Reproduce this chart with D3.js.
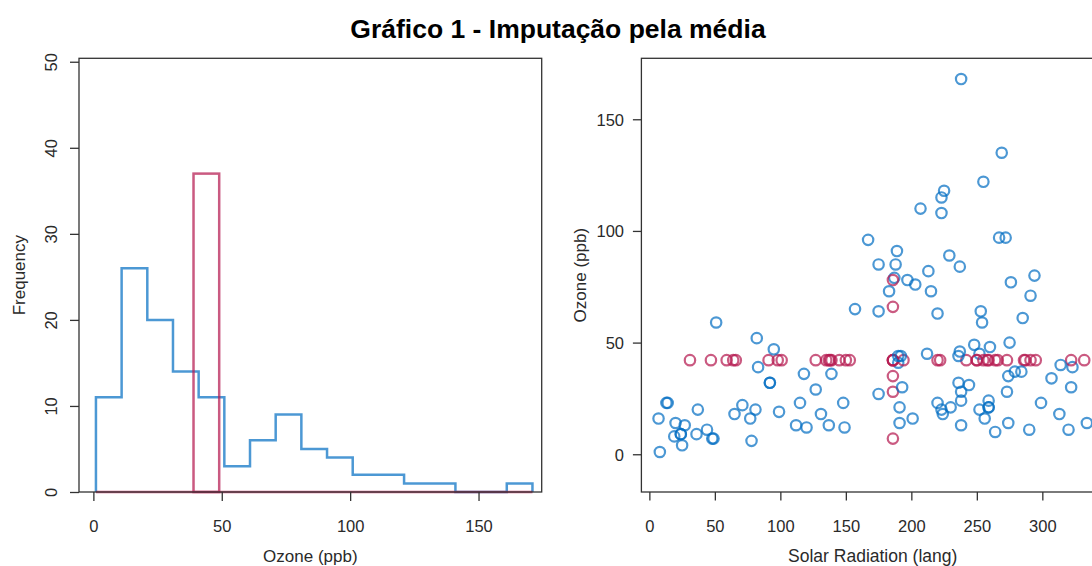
<!DOCTYPE html>
<html><head><meta charset="utf-8">
<script src="https://cdn.jsdelivr.net/npm/d3@7"></script>
<style>
body{margin:0;background:#fff}
svg{display:block}
text{font-family:"Liberation Sans",Arial,Helvetica,sans-serif}
</style>
</head><body>
<script>
// ---------- data ----------
const histBreaks = [1,11,21,31,41,51,61,71,81,91,101,111,121,131,141,151,161,171];
const histCounts = [11,26,20,14,11,3,6,9,5,4,2,2,1,1,0,0,1];
const impBreaks = [39,49];
const impCounts = [37];
const histXTicks = [0,50,100,150];
const histYTicks = [0,10,20,30,40,50];
const scatXTicks = [0,50,100,150,200,250,300];
const scatYTicks = [0,50,100,150];
const ozoneMean = 42.13;
const solarMean = 185.93;
// airquality Ozone / Solar.R (null = missing, imputed by the mean)
const ozone = [41,36,12,18,null,28,23,19,8,null,7,16,11,14,18,14,34,6,30,11,1,11,4,32,null,null,null,23,45,115,37,
 null,null,null,null,null,null,29,null,71,39,null,null,23,null,null,21,37,20,12,13,null,null,null,null,null,null,null,null,null,null,
 135,49,32,null,64,40,77,97,97,85,null,10,27,null,7,48,35,61,79,63,16,null,null,80,108,20,52,82,50,64,59,
 39,9,16,78,35,66,122,89,110,null,null,44,28,65,null,22,59,23,31,44,21,9,null,45,168,73,null,76,118,84,85,
 96,78,73,91,47,32,20,23,21,24,44,21,28,9,13,46,18,13,24,16,13,23,36,7,14,30,null,14,18,20];
const solar = [190,118,149,313,null,null,299,99,19,194,null,256,290,274,65,334,307,78,322,44,8,320,25,92,66,266,null,13,252,223,279,
 286,287,242,186,220,264,127,273,291,323,259,250,148,332,322,191,284,37,120,137,150,59,91,250,135,127,47,98,31,138,
 269,248,236,101,175,314,276,267,272,175,139,264,175,291,48,260,274,285,187,220,7,258,295,294,223,81,82,213,275,253,254,
 83,24,77,null,null,null,255,229,207,222,137,192,273,157,64,71,51,115,244,190,259,36,255,212,238,215,153,203,225,237,188,
 167,197,183,189,95,92,252,220,230,259,236,259,238,24,112,237,224,27,238,201,238,14,139,49,20,193,145,191,131,223];

// ---------- styles ----------
const W = 1092, H = 566;
const BLUE = "rgba(0,108,194,0.7)";
const RED = "rgba(182,26,81,0.72)";
const AX = "#333";
const TXT = "#2a2a2a";

const svg = d3.select("body").append("svg").attr("width", W).attr("height", H);
svg.append("rect").attr("width", W).attr("height", H).attr("fill", "#fff");

svg.append("text").attr("x", 558).attr("y", 38).attr("text-anchor", "middle")
  .attr("font-size", 26.5).attr("font-weight", "bold").attr("fill", "#000")
  .text("Gráfico 1 - Imputação pela média");

// ---------- histogram ----------
const hL = 79, hR = 541.7, hT = 58.3, hB = 492;
const hx = d3.scaleLinear().domain([-5.6, 174.6]).range([hL, hR]);
const hy = d3.scaleLinear().domain([0, 50.4]).range([hB, hT]);

const gH = svg.append("g");
// blue step outline
const pts = [[histBreaks[0], 0]];
histCounts.forEach((c, i) => { pts.push([histBreaks[i], c]); pts.push([histBreaks[i + 1], c]); });
pts.push([histBreaks[histBreaks.length - 1], 0]);
const line = d3.line().x(d => hx(d[0])).y(d => hy(d[1]));
gH.append("path").attr("d", line(pts)).attr("fill", "none").attr("stroke", BLUE)
  .attr("stroke-width", 2.5).attr("stroke-linejoin", "miter");
// red baseline + imputed bar
gH.append("line").attr("x1", hx(histBreaks[0])).attr("x2", hx(histBreaks[histBreaks.length - 1]))
  .attr("y1", hy(0)).attr("y2", hy(0)).attr("stroke", RED).attr("stroke-width", 2.4);
impCounts.forEach((c, i) => {
  gH.append("rect").attr("x", hx(impBreaks[i])).attr("y", hy(c))
    .attr("width", hx(impBreaks[i + 1]) - hx(impBreaks[i])).attr("height", hy(0) - hy(c))
    .attr("fill", "none").attr("stroke", RED).attr("stroke-width", 2.5);
});
gH.append("rect").attr("x", hL).attr("y", hT).attr("width", hR - hL).attr("height", hB - hT)
  .attr("fill", "none").attr("stroke", AX).attr("stroke-width", 1.3);

const hxa = gH.append("g").attr("transform", `translate(0,${hB})`)
  .call(d3.axisBottom(hx).tickValues(histXTicks).tickSize(9).tickSizeOuter(0).tickFormat(d3.format("d")));
hxa.select(".domain").remove();
hxa.selectAll("line").attr("stroke", AX).attr("stroke-width", 1.3);
hxa.selectAll("text").attr("y", 0).attr("dy", 0).attr("transform", "translate(0,40)")
  .attr("font-size", 16.5).attr("fill", TXT).attr("font-family", null);

const hya = gH.append("g").attr("transform", `translate(${hL},0)`)
  .call(d3.axisLeft(hy).tickValues(histYTicks).tickSize(9).tickSizeOuter(0).tickFormat(d3.format("d")));
hya.select(".domain").remove();
hya.selectAll("line").attr("stroke", AX).attr("stroke-width", 1.3);
hya.selectAll("text").attr("x", 0).attr("dy", 0).attr("text-anchor", "middle")
  .attr("transform", `translate(${56.5 - hL},0) rotate(-90)`)
  .attr("font-size", 16.5).attr("fill", TXT).attr("font-family", null);

gH.append("text").attr("x", (hL + hR) / 2).attr("y", 562).attr("text-anchor", "middle")
  .attr("font-size", 17).attr("fill", TXT).text("Ozone (ppb)");
gH.append("text").attr("transform", `translate(24.5,${(hT + hB) / 2}) rotate(-90)`).attr("text-anchor", "middle")
  .attr("font-size", 17).attr("fill", TXT).text("Frequency");

// ---------- scatter ----------
const sL = 641.4, sR = 1104, sT = 58.3, sB = 492;
const sx = d3.scaleLinear().domain([-6.08, 347.08]).range([sL, sR]);
const sy = d3.scaleLinear().domain([-16.9, 177.3]).range([sB, sT]);
const gS = svg.append("g");

const rows = ozone.map((o, i) => ({
  x: solar[i] === null ? solarMean : solar[i],
  y: o === null ? ozoneMean : o,
  imp: o === null || solar[i] === null
}));
const clip = svg.append("defs").append("clipPath").attr("id", "sc");
clip.append("rect").attr("x", sL).attr("y", sT).attr("width", sR - sL).attr("height", sB - sT);
gS.append("g").attr("clip-path", "url(#sc)").selectAll("circle").data(rows).join("circle")
  .attr("cx", d => sx(d.x)).attr("cy", d => sy(d.y)).attr("r", 5.2)
  .attr("fill", "none").attr("stroke", d => d.imp ? RED : BLUE).attr("stroke-width", 2.2);

gS.append("rect").attr("x", sL).attr("y", sT).attr("width", sR - sL).attr("height", sB - sT)
  .attr("fill", "none").attr("stroke", AX).attr("stroke-width", 1.3);

const sxa = gS.append("g").attr("transform", `translate(0,${sB})`)
  .call(d3.axisBottom(sx).tickValues(scatXTicks).tickSize(8.5).tickSizeOuter(0).tickFormat(d3.format("d")));
sxa.select(".domain").remove();
sxa.selectAll("line").attr("stroke", AX).attr("stroke-width", 1.3);
sxa.selectAll("text").attr("y", 0).attr("dy", 0).attr("transform", "translate(0,40)")
  .attr("font-size", 16.5).attr("fill", TXT).attr("font-family", null);

const sya = gS.append("g").attr("transform", `translate(${sL},0)`)
  .call(d3.axisLeft(sy).tickValues(scatYTicks).tickSize(8.5).tickSizeOuter(0).tickFormat(d3.format("d")));
sya.select(".domain").remove();
sya.selectAll("line").attr("stroke", AX).attr("stroke-width", 1.3);
sya.selectAll("text").attr("x", 624 - sL).attr("dy", "0.35em")
  .attr("font-size", 16.5).attr("fill", TXT).attr("font-family", null);

gS.append("text").attr("x", (sL + sR) / 2).attr("y", 562).attr("text-anchor", "middle")
  .attr("font-size", 17.5).attr("fill", TXT).text("Solar Radiation (lang)");
gS.append("text").attr("transform", `translate(585.8,${(sT + sB) / 2}) rotate(-90)`).attr("text-anchor", "middle")
  .attr("font-size", 17).attr("fill", TXT).text("Ozone (ppb)");
</script>
</body></html>
